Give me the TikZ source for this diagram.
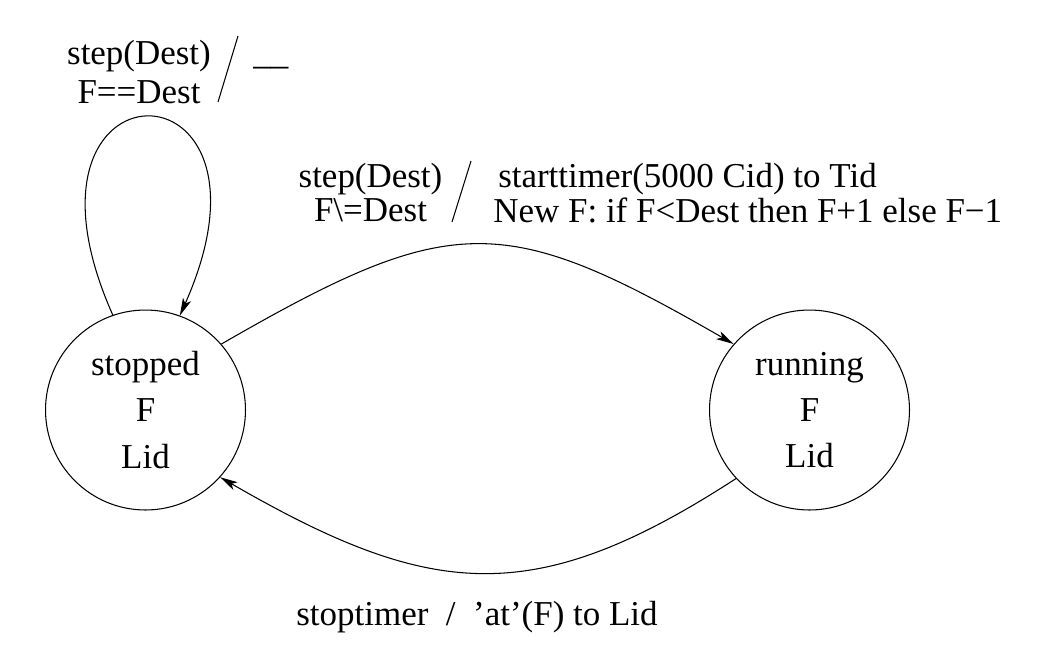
\documentclass[tikz,border=0pt]{standalone}
\usepackage{fontspec}
\setmainfont{Liberation Serif}
\usetikzlibrary{arrows.meta}

\newcommand{\stavfont}{\fontsize{19.9}{26.2}\selectfont}
\newcommand{\popisfont}{\fontsize{19.9}{22.2}\selectfont}
\newcommand{\popisfontb}{\fontsize{19.9}{19.9}\selectfont}

\begin{document}
\begin{tikzpicture}[x=0.02cm, y=-0.02cm,
    stav/.style={circle, draw, line width=0.6pt, minimum size=4cm, inner sep=0pt, align=center, font=\stavfont},
    popis/.style={inner sep=0pt, anchor=base west, font=\popisfont},
    lomitko/.style={line width=0.6pt},
    prechod/.style={line width=0.6pt, -{Stealth[length=10pt,width=5pt,inset=2.5pt]}}]

    \useasboundingbox (0,0) rectangle (1043,663);

    % stavy
    \node[stav] (stopped) at (145.5,410) {stopped\\F\\Lid};
    \node[stav] (running) at (809.5,410) {running\\F\\Lid};

    % prechody
    \draw[prechod] (stopped.109) to[out=114, in=66, looseness=11] (stopped.70);
    \draw[prechod] (stopped.41) to[out=30, in=150, looseness=1.33] (running.139);
    \draw[prechod] (running.223) to[out=213, in=330, looseness=1.2] (stopped.318);

    % popisky
    \node[popis, anchor=base] (loopcond) at (139,64) {\begin{tabular}[t]{@{}c@{}}step(Dest)\\ F==Dest\end{tabular}};
    \node[popis] (loopact) at (253,64) {\_\_};
    \draw[lomitko] (238,36) -- (218,102);

    \node[popis, anchor=base, font=\popisfontb] (startcond) at (370.5,187) {\begin{tabular}[t]{@{}c@{}}step(Dest)\\ F\textbackslash=Dest\end{tabular}};
    \node[popis, font=\popisfontb] (startact) at (493,187) {\begin{tabular}[t]{@{}l@{}}\hspace{0.14em}starttimer(5000 Cid) to Tid\\ New F: if F<Dest then F+1 else F−1\end{tabular}};
    \draw[lomitko] (471,161) -- (452,222);

    \node[popis, anchor=base] (stopact) at (477,625) {stoptimer\ \ /\ \ 'at'(F) to Lid};

\end{tikzpicture}
\end{document}
